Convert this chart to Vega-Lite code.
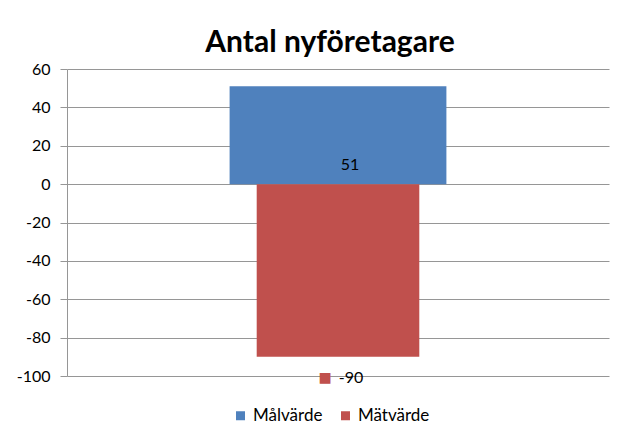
{
  "$schema": "https://vega.github.io/schema/vega-lite/v6.json",
  "width": 542,
  "height": 307,
  "autosize": {"type": "none"},
  "padding": {"left": 67, "top": 69, "right": 35, "bottom": 61},
  "background": "white",
  "title": {"text": "Antal nyföretagare", "font": "Lato", "fontSize": 30, "fontWeight": "bold", "color": "#000000", "anchor": "middle", "offset": 3, "dx": -8},
  "config": {"view": {"stroke": null}},
  "data": {"values": [
    {"kategori": "Antal nyföretagare", "serie": "Målvärde", "varde": 51},
    {"kategori": "Antal nyföretagare", "serie": "Mätvärde", "varde": -90}
  ]},
  "encoding": {
    "x": {"field": "kategori", "type": "nominal", "axis": null, "scale": {"paddingInner": 0, "paddingOuter": 0}},
    "y": {"field": "varde", "type": "quantitative", "scale": {"domain": [-100, 60], "nice": false, "zero": true},
      "axis": {"title": null, "values": [-100, -80, -60, -40, -20, 0, 20, 40, 60], "tickCount": 20, "labelExpr": "toString(datum.value)", "labelOverlap": false,
        "grid": true, "gridColor": "#969696", "gridWidth": 1,
        "domainColor": "#969696", "tickColor": "#969696", "tickSize": 7, "labelPadding": 10,
        "labelFont": "Lato", "labelFontSize": 16, "labelColor": "#000000"}}
  },
  "layer": [
    {
      "transform": [{"filter": "datum.serie === 'Målvärde'"}],
      "mark": {"type": "bar", "width": {"band": 0.4}},
      "encoding": {
        "color": {"field": "serie", "type": "nominal",
          "scale": {"domain": ["Målvärde", "Mätvärde"], "range": ["#4F81BD", "#C0504D"]},
          "legend": {"orient": "none", "legendX": 165, "legendY": 338, "direction": "horizontal", "title": null, "symbolType": "square", "symbolSize": 81, "symbolStrokeWidth": 0,
            "labelFont": "Lato", "labelFontSize": 17, "labelColor": "#000000", "columnPadding": 14, "labelOffset": 4}}
      }
    },
    {
      "transform": [{"filter": "datum.serie === 'Mätvärde'"}],
      "mark": {"type": "bar", "width": {"band": 0.3}},
      "encoding": {
        "color": {"field": "serie", "type": "nominal"}
      }
    },
    {
      "transform": [{"filter": "datum.serie === 'Målvärde'"}],
      "mark": {"type": "text", "font": "Lato", "fontSize": 16, "color": "#000000", "dx": 12, "dy": -19, "baseline": "middle"},
      "encoding": {
        "y": {"datum": 0, "type": "quantitative"},
        "text": {"field": "varde", "type": "nominal"}
      }
    },
    {
      "transform": [{"filter": "datum.serie === 'Mätvärde'"}],
      "mark": {"type": "text", "font": "Lato", "fontSize": 16, "color": "#000000", "dx": 13, "dy": 21, "baseline": "middle"},
      "encoding": {
        "text": {"field": "varde", "type": "nominal"}
      }
    },
    {
      "transform": [{"filter": "datum.serie === 'Mätvärde'"}],
      "mark": {"type": "text", "text": "■", "font": "DejaVu Sans", "fontSize": 14, "color": "#C0504D", "dx": -13, "dy": 21, "baseline": "middle"},
      "encoding": {}
    }
  ]
}
